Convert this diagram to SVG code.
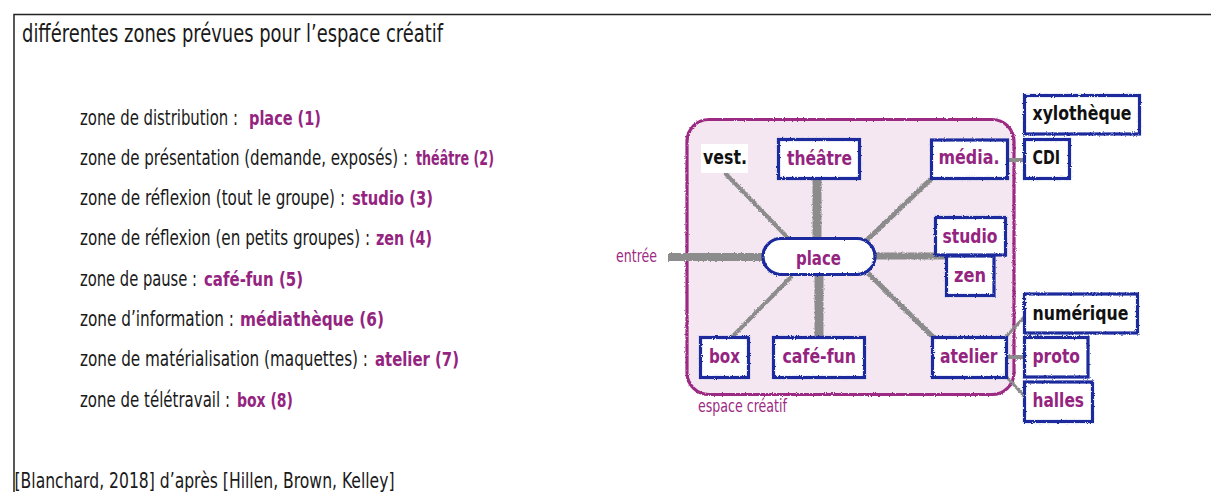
<svg xmlns="http://www.w3.org/2000/svg" width="1211" height="492" viewBox="0 0 1211 492">
<style>
text{font-family:"DejaVu Sans Condensed","Liberation Sans Narrow","Liberation Sans",sans-serif;font-stretch:condensed}
.t{fill:#1a1a1a;font-size:21px}
.l{fill:#1a1a1a;font-size:17px}
.p{fill:#94247f;font-weight:bold;font-size:16px}
.n{font-size:20px;font-weight:bold}
.np{fill:#94247f}
.nb{fill:#111}
.box{fill:#fff;stroke:#1b2c9e;stroke-width:3.2;filter:url(#rough)}
.c{stroke:#8c8c8c;fill:none;filter:url(#rough2)}
</style>
<defs>
<filter id="rough" filterUnits="userSpaceOnUse" x="0" y="0" width="1211" height="492">
<feTurbulence type="fractalNoise" baseFrequency="0.9" numOctaves="2" seed="3" result="n"/>
<feDisplacementMap in="SourceGraphic" in2="n" scale="2.5" xChannelSelector="R" yChannelSelector="G"/>
</filter>
<filter id="rough2" filterUnits="userSpaceOnUse" x="0" y="0" width="1211" height="492">
<feTurbulence type="fractalNoise" baseFrequency="0.7" numOctaves="2" seed="7" result="n"/>
<feDisplacementMap in="SourceGraphic" in2="n" scale="3" xChannelSelector="R" yChannelSelector="G"/>
</filter>
</defs>
<rect width="1211" height="492" fill="#fff"/>
<path d="M14,492 V14.5 H1211" fill="none" stroke="#222" stroke-width="1.5"/>
<text class="t" transform="translate(22,42) scale(1,1.2)" style="font-size:21px" textLength="421" lengthAdjust="spacingAndGlyphs">différentes zones prévues pour l’espace créatif</text>

<g id="list">
<text class="l" transform="translate(80,124.5) scale(1,1.25)"><tspan x="0" textLength="158" lengthAdjust="spacingAndGlyphs">zone de distribution :</tspan><tspan class="p" x="169" textLength="72" lengthAdjust="spacingAndGlyphs">place (1)</tspan></text>
<text class="l" transform="translate(80,164.8) scale(1,1.25)"><tspan x="0" textLength="328" lengthAdjust="spacingAndGlyphs">zone de présentation (demande, exposés) :</tspan><tspan class="p" x="336" textLength="78" lengthAdjust="spacingAndGlyphs">théâtre (2)</tspan></text>
<text class="l" transform="translate(80,205.1) scale(1,1.25)"><tspan x="0" textLength="265" lengthAdjust="spacingAndGlyphs">zone de réflexion (tout le groupe) :</tspan><tspan class="p" x="272" textLength="81" lengthAdjust="spacingAndGlyphs">studio (3)</tspan></text>
<text class="l" transform="translate(80,245.4) scale(1,1.25)"><tspan x="0" textLength="290" lengthAdjust="spacingAndGlyphs">zone de réflexion (en petits groupes) :</tspan><tspan class="p" x="296" textLength="56" lengthAdjust="spacingAndGlyphs">zen (4)</tspan></text>
<text class="l" transform="translate(80,285.7) scale(1,1.25)"><tspan x="0" textLength="117" lengthAdjust="spacingAndGlyphs">zone de pause :</tspan><tspan class="p" x="124" textLength="99" lengthAdjust="spacingAndGlyphs">café-fun (5)</tspan></text>
<text class="l" transform="translate(80,326) scale(1,1.25)"><tspan x="0" textLength="154" lengthAdjust="spacingAndGlyphs">zone d’information :</tspan><tspan class="p" x="160" textLength="144" lengthAdjust="spacingAndGlyphs">médiathèque (6)</tspan></text>
<text class="l" transform="translate(80,366.3) scale(1,1.25)"><tspan x="0" textLength="288" lengthAdjust="spacingAndGlyphs">zone de matérialisation (maquettes) :</tspan><tspan class="p" x="295" textLength="84" lengthAdjust="spacingAndGlyphs">atelier (7)</tspan></text>
<text class="l" transform="translate(80,406.6) scale(1,1.25)"><tspan x="0" textLength="150" lengthAdjust="spacingAndGlyphs">zone de télétravail :</tspan><tspan class="p" x="157" textLength="56" lengthAdjust="spacingAndGlyphs">box (8)</tspan></text>
</g>

<text class="l" transform="translate(14.5,488) scale(1,1.22)" textLength="380" lengthAdjust="spacingAndGlyphs">[Blanchard, 2018] d’après [Hillen, Brown, Kelley]</text>

<g id="espace">
<rect x="687" y="119.5" width="327" height="275" rx="22" fill="#f4e7f1" stroke="#9c2a82" stroke-width="3.2" filter="url(#rough)"/>
<text transform="translate(698,412) scale(1,1.2)" fill="#9c2a82" style="font-size:14px" textLength="89" lengthAdjust="spacingAndGlyphs">espace créatif</text>
</g>

<g id="entree">
<text transform="translate(616,262) scale(1,1.2)" fill="#9c2a82" style="font-size:14px" textLength="41" lengthAdjust="spacingAndGlyphs">entrée</text>
</g>

<g id="connectors">
<path class="c" d="M668,257 H766" stroke-width="8"/>
<path class="c" d="M873,256 H945" stroke-width="7"/>
<path class="c" d="M817,179 V239" stroke-width="9"/>
<path class="c" d="M819,274 V337" stroke-width="9"/>
<path class="c" d="M725,173 L790,240" stroke-width="4"/>
<path class="c" d="M932,178 L866,241" stroke-width="5"/>
<path class="c" d="M732,337 L792,276" stroke-width="4"/>
<path class="c" d="M934,338 L868,273" stroke-width="5"/>
<path class="c" d="M1007,160 H1025" stroke-width="4"/>
<path class="c" d="M1005,338 L1025,316" stroke-width="3"/>
<path class="c" d="M1006,357 H1025" stroke-width="4"/>
<path class="c" d="M1005,375 L1025,397" stroke-width="3"/>
</g>

<g id="vest">
<rect x="701" y="144" width="47" height="29" fill="#fff"/>
<text class="n nb" x="703" y="164" textLength="44" lengthAdjust="spacingAndGlyphs">vest.</text>
</g>
<g id="theatre">
<rect class="box" x="778.5" y="139.5" width="81" height="39"/>
<text class="n np" x="787" y="165" textLength="65" lengthAdjust="spacingAndGlyphs">théâtre</text>
</g>
<g id="media">
<rect class="box" x="931.5" y="140" width="76" height="38.5"/>
<text class="n np" x="938.5" y="164" textLength="61" lengthAdjust="spacingAndGlyphs">média.</text>
</g>
<g id="place">
<rect class="box" x="763" y="238.5" width="112" height="36" rx="18"/>
<text class="n np" x="796" y="265" textLength="45" lengthAdjust="spacingAndGlyphs">place</text>
</g>
<g id="studio">
<rect class="box" x="935.5" y="217.5" width="70" height="37.5"/>
<text class="n np" x="942.5" y="242.5" textLength="55" lengthAdjust="spacingAndGlyphs">studio</text>
</g>
<g id="zen">
<rect class="box" x="946.5" y="256" width="47.5" height="39.5"/>
<text class="n np" x="954" y="281.5" textLength="32" lengthAdjust="spacingAndGlyphs">zen</text>
</g>
<g id="box">
<rect class="box" x="700.5" y="337.5" width="48" height="40"/>
<text class="n np" x="709" y="363" textLength="31" lengthAdjust="spacingAndGlyphs">box</text>
</g>
<g id="cafe-fun">
<rect class="box" x="773.5" y="337.5" width="91" height="40"/>
<text class="n np" x="782.5" y="363" textLength="73.5" lengthAdjust="spacingAndGlyphs">café-fun</text>
</g>
<g id="atelier">
<rect class="box" x="932.5" y="337.5" width="74" height="40"/>
<text class="n np" x="940" y="363" textLength="57.5" lengthAdjust="spacingAndGlyphs">atelier</text>
</g>
<g id="xylotheque">
<rect class="box" x="1024.5" y="95.5" width="115" height="38.5"/>
<text class="n nb" x="1032.5" y="120" textLength="99" lengthAdjust="spacingAndGlyphs">xylothèque</text>
</g>
<g id="cdi">
<rect class="box" x="1024.5" y="139.5" width="45" height="39"/>
<text class="n nb" x="1032.5" y="164" textLength="27.5" lengthAdjust="spacingAndGlyphs">CDI</text>
</g>
<g id="numerique">
<rect class="box" x="1024.5" y="294" width="113" height="39"/>
<text class="n nb" x="1032.5" y="319.5" textLength="96" lengthAdjust="spacingAndGlyphs">numérique</text>
</g>
<g id="proto">
<rect class="box" x="1024.5" y="337.5" width="63.5" height="39.5"/>
<text class="n np" x="1032.5" y="362.5" textLength="47.5" lengthAdjust="spacingAndGlyphs">proto</text>
</g>
<g id="halles">
<rect class="box" x="1024.5" y="382" width="68" height="39.5"/>
<text class="n np" x="1032.5" y="407" textLength="51.5" lengthAdjust="spacingAndGlyphs">halles</text>
</g>
</svg>
